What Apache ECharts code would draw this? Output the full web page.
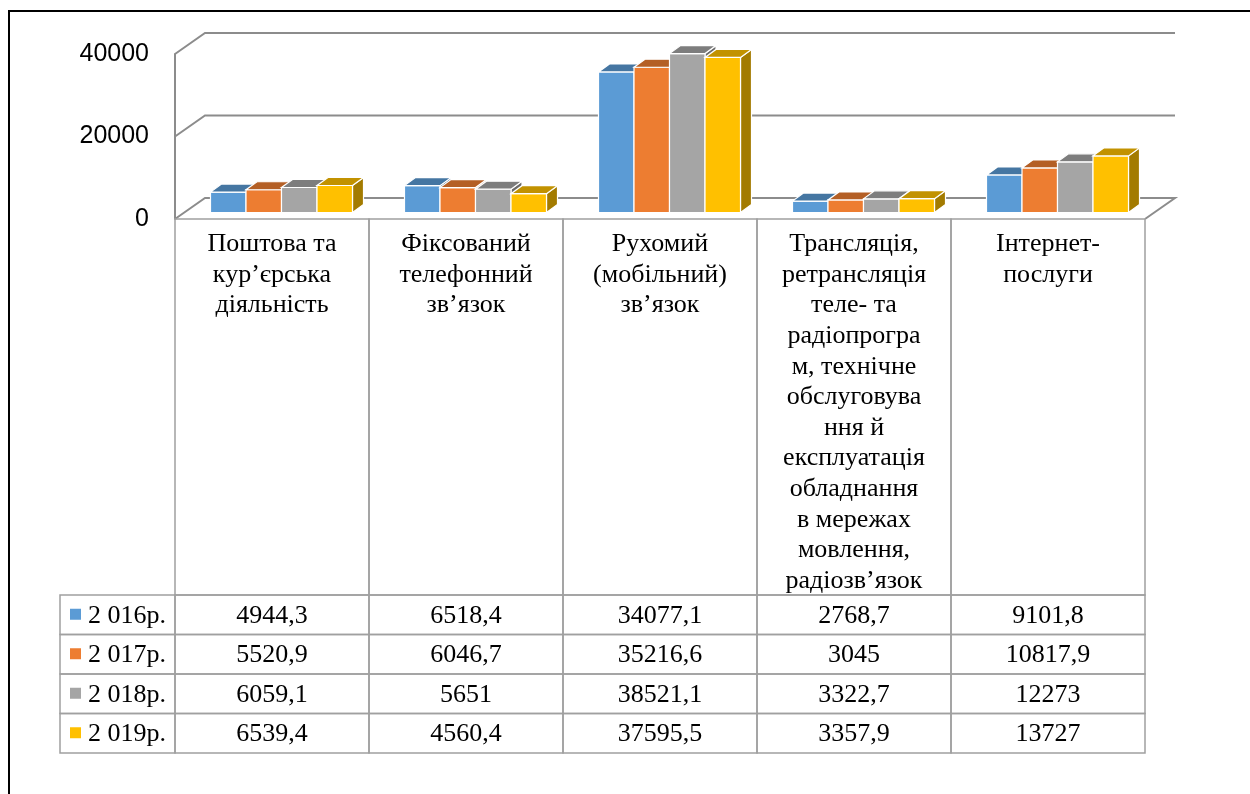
<!DOCTYPE html>
<html><head><meta charset="utf-8">
<script src="https://cdn.jsdelivr.net/npm/echarts@6/dist/echarts.min.js"></script>
<style>html,body{margin:0;padding:0;background:#fff}#c{width:1250px;height:794px}</style>
</head><body><div id="c"></div>
<script>
// ---- data ----
const categories = ['Поштова та\nкур’єрська\nдіяльність', 'Фіксований\nтелефонний\nзв’язок', 'Рухомий\n(мобільний)\nзв’язок', 'Трансляція,\nретрансляція\nтеле- та\nрадіопрогра\nм, технічне\nобслуговува\nння й\nексплуатація\nобладнання\nв мережах\nмовлення,\nрадіозв’язок', 'Інтернет-\nпослуги'];
const years = ['2 016р.', '2 017р.', '2 018р.', '2 019р.'];
const v2016 = [4944.3, 6518.4, 34077.1, 2768.7, 9101.8];
const v2017 = [5520.9, 6046.7, 35216.6, 3045, 10817.9];
const v2018 = [6059.1, 5651, 38521.1, 3322.7, 12273];
const v2019 = [6539.4, 4560.4, 37595.5, 3357.9, 13727];
const yTicks = [0, 20000, 40000];

// ---- styling ----
const seriesValues = [v2016, v2017, v2018, v2019];
const colors = ['#5b9bd5', '#ed7d31', '#a5a5a5', '#ffc000'];
const GRID_COLOR = '#8c8c8c';
const TABLE_LINE = '#a0a0a0';
const DEPTH = [30, -21];        // floor depth offset
const BAR_SHIFT = [9.5, -6.5];  // bar front face offset
const BAR_DEPTH = [11, -8];     // bar depth
const BAR_FRAC = 0.183;         // bar width as fraction of band
const SERIF = '"Liberation Serif","Times New Roman",serif';

function shade(hex, f) {
  const n = parseInt(hex.slice(1), 16);
  const r = Math.round(((n >> 16) & 255) * f), g = Math.round(((n >> 8) & 255) * f), b = Math.round((n & 255) * f);
  return 'rgb(' + r + ',' + g + ',' + b + ')';
}
function fmt(v) { return String(v).replace('.', ','); }

function gridRender(params, api) {
  const v = api.value(0);
  const cs = params.coordSys;
  const y = api.coord([0, v])[1];
  const xL = cs.x, xR = cs.x + cs.width;
  const pts = [[xL, y], [xL + DEPTH[0], y + DEPTH[1]], [xR + DEPTH[0], y + DEPTH[1]]];
  if (v === 0) pts.push([xR, y]);
  return { type: 'polyline', shape: { points: pts }, style: { stroke: GRID_COLOR, lineWidth: 2, fill: null } };
}

function barRender(s) {
  return function (params, api) {
    const i = api.value(0), v = api.value(1);
    const c = api.coord([i, v]);
    const c0 = api.coord([i, 0]);
    const band = api.size([1, 0])[0];
    const bw = band * BAR_FRAC;
    const xl = c[0] - 2 * bw + s * bw + BAR_SHIFT[0];
    const xr = xl + bw;
    const yt = c[1] + BAR_SHIFT[1];
    const yb = c0[1] + BAR_SHIFT[1];
    const dx = BAR_DEPTH[0], dy = BAR_DEPTH[1];
    const col = colors[s];
    const st = { stroke: '#fff', lineWidth: 1.2 };
    return { type: 'group', children: [
      { type: 'polygon', shape: { points: [[xr, yt], [xr + dx, yt + dy], [xr + dx, yb + dy], [xr, yb]] }, style: Object.assign({ fill: shade(col, 0.64) }, st) },
      { type: 'rect', shape: { x: xl, y: yt, width: bw, height: yb - yt }, style: Object.assign({ fill: col }, st) },
      { type: 'polygon', shape: { points: [[xl, yt], [xr, yt], [xr + dx, yt + dy], [xl + dx, yt + dy]] }, style: Object.assign({ fill: shade(col, 0.76) }, st) }
    ] };
  };
}

function headerRender(params, api) {
  const i = api.value(0);
  const c = api.coord([i, 0]);
  const band = api.size([1, 0])[0];
  const cs = params.coordSys;
  return { type: 'group', children: [
    { type: 'rect', shape: { x: c[0] - band / 2, y: cs.y, width: band, height: cs.height }, style: { fill: 'transparent', stroke: TABLE_LINE, lineWidth: 1.5 } },
    { type: 'text', style: { text: categories[i], x: c[0], y: cs.y + 10, align: 'center', verticalAlign: 'top', fontFamily: SERIF, fontSize: 26, lineHeight: 30.6, fill: '#000' } }
  ] };
}

function cellRender(params, api) {
  const i = api.value(0), j = api.value(1);
  const c = api.coord([i, j]);
  const band = api.size([1, 0])[0];
  const rowh = api.size([0, 1])[1];
  return { type: 'group', children: [
    { type: 'rect', shape: { x: c[0] - band / 2, y: c[1] - rowh / 2, width: band, height: rowh }, style: { fill: 'transparent', stroke: TABLE_LINE, lineWidth: 1.5 } },
    { type: 'text', style: { text: fmt(seriesValues[j][i]), x: c[0], y: c[1] + 1, align: 'center', verticalAlign: 'middle', fontFamily: SERIF, fontSize: 26, fill: '#000' } }
  ] };
}

function legendRender(params, api) {
  const j = api.value(1);
  const c = api.coord([0, j]);
  const cs = params.coordSys;
  const rowh = api.size([0, 1])[1];
  return { type: 'group', children: [
    { type: 'rect', shape: { x: cs.x, y: c[1] - rowh / 2, width: cs.width, height: rowh }, style: { fill: 'transparent', stroke: TABLE_LINE, lineWidth: 1.5 } },
    { type: 'rect', shape: { x: cs.x + 10, y: c[1] - 6, width: 11, height: 11 }, style: { fill: colors[j] } },
    { type: 'text', style: { text: years[j], x: cs.x + 28, y: c[1] + 1, align: 'left', verticalAlign: 'middle', fontFamily: SERIF, fontSize: 26, fill: '#000' } }
  ] };
}

const catIdx = categories.map((_, i) => i);
const series = [];
series.push({ type: 'custom', name: 'grid', xAxisIndex: 0, yAxisIndex: 0, data: yTicks.map(v => [v]), encode: { y: 0 }, renderItem: gridRender, silent: true, z: 1 });
seriesValues.forEach((vals, s) => {
  series.push({ type: 'custom', name: years[s], xAxisIndex: 0, yAxisIndex: 0, data: vals.map((v, i) => [i, v]), encode: { x: 0, y: 1 }, renderItem: barRender(s), z: 2 });
});
series.push({ type: 'custom', name: 'header', xAxisIndex: 1, yAxisIndex: 1, data: catIdx.map(i => [i, 0]), encode: { x: 0, y: 1 }, renderItem: headerRender, z: 3 });
const cells = [];
seriesValues.forEach((vals, j) => vals.forEach((v, i) => cells.push([i, j])));
series.push({ type: 'custom', name: 'cells', xAxisIndex: 2, yAxisIndex: 2, data: cells, encode: { x: 0, y: 1 }, renderItem: cellRender, z: 3 });
series.push({ type: 'custom', name: 'legend', xAxisIndex: 3, yAxisIndex: 3, data: years.map((_, j) => [0, j]), encode: { x: 0, y: 1 }, renderItem: legendRender, z: 3 });

const hiddenCat = (data, inv) => ({ show: true, type: 'category', data: data, inverse: !!inv, axisLine: { show: false }, axisTick: { show: false }, axisLabel: { show: false }, splitLine: { show: false } });

const option = {
  animation: false,
  backgroundColor: '#fff',
  grid: [
    { left: 175, right: 105, top: 54, height: 165 },
    { left: 175, right: 105, top: 219, height: 376 },
    { left: 175, right: 105, top: 595, height: 158 },
    { left: 60, width: 115, top: 595, height: 158 }
  ],
  xAxis: [
    Object.assign(hiddenCat(catIdx), { gridIndex: 0 }),
    Object.assign(hiddenCat(catIdx), { gridIndex: 1 }),
    Object.assign(hiddenCat(catIdx), { gridIndex: 2 }),
    Object.assign(hiddenCat(['']), { gridIndex: 3 })
  ],
  yAxis: [
    { gridIndex: 0, type: 'value', min: 0, max: 40000, interval: 20000,
      axisLine: { show: true, lineStyle: { color: GRID_COLOR, width: 2 } }, axisTick: { show: false }, splitLine: { show: false },
      axisLabel: { color: '#000', fontSize: 25, fontFamily: '"Liberation Sans",Arial,sans-serif', margin: 26, padding: [5, 0, 0, 0], formatter: v => String(v) } },
    { gridIndex: 1, type: 'value', min: 0, max: 1, show: false },
    Object.assign(hiddenCat(years, true), { gridIndex: 2 }),
    Object.assign(hiddenCat(years, true), { gridIndex: 3 })
  ],
  graphic: [
    { type: 'polyline', shape: { points: [[9, 800], [9, 11], [1260, 11]] }, style: { stroke: '#000', lineWidth: 2, fill: null }, z: 10 }
  ],
  series: series
};
const chart = echarts.init(document.getElementById('c'), null, { renderer: 'canvas' });
chart.setOption(option);
</script></body></html>
